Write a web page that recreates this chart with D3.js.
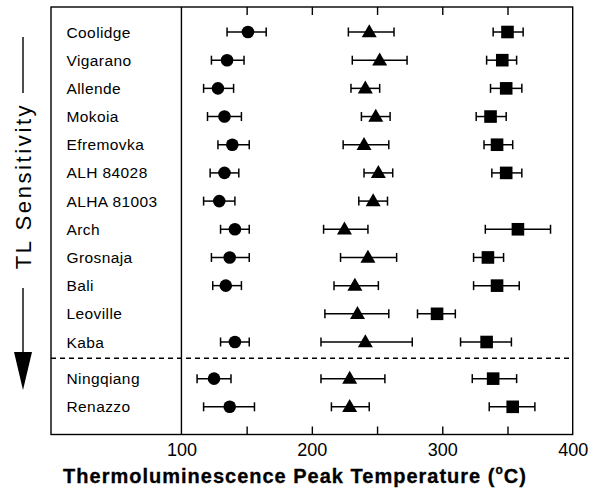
<!DOCTYPE html>
<html>
<head>
<meta charset="utf-8">
<script src="https://cdn.jsdelivr.net/npm/d3@7"></script>
<style>
  html, body { margin: 0; padding: 0; background: #fff; }
  svg { display: block; font-family: "Liberation Sans", Arial, Helvetica, sans-serif; }
</style>
</head>
<body>
<svg id="chart" width="590" height="495"></svg>
<script>
// ---- data ----
const categories = ["Coolidge","Vigarano","Allende","Mokoia","Efremovka","ALH 84028","ALHA 81003","Arch","Grosnaja","Bali","Leoville","Kaba","Ningqiang","Renazzo"];
const circleMid = [151,135,128,133,139,133,129,141,137,134,null,141,125,137];
const circleLo  = [135,123,117,120,128,122,117,130,123,124,null,130,112,117];
const circleHi  = [165,148,140,146,152,144,141,152,152,146,null,152,138,156];
const triMid = [244,252,241,249,240,251,247,225,243,233,235,241,229,229];
const triLo  = [228,231,230,238,224,240,236,209,222,217,210,207,207,215];
const triHi  = [263,273,252,260,259,262,258,243,265,251,259,277,256,244];
const sqMid = [350,346,349,337,342,349,null,358,335,342,296,334,339,354];
const sqLo  = [339,334,337,326,332,338,null,333,324,324,281,314,323,336];
const sqHi  = [362,357,361,349,354,361,null,383,347,359,310,353,357,371];
const xTickLabels = [100,200,300,400];
const xMinorTicks = [150,200,250,300,350];
const separatorAfter = "Kaba";
const xTitle = "Thermoluminescence Peak Temperature (";
const yTitle = "TL Sensitivity";

// ---- layout ----
const svg = d3.select("#chart");
const pL = 51, pR = 572.7, pT = 7, pB = 434.5;
const x = d3.scaleLinear().domain([0, 400]).range([pL, pR]);
const sepIndex = categories.indexOf(separatorAfter);
const gap = 0.3;
const slot = i => i + (i > sepIndex ? gap : 0);
const y = d3.scaleLinear().domain([0, 11]).range([32, 342]);
const rowY = i => y(slot(i));

// frame
svg.append("rect").attr("x", pL).attr("y", pT).attr("width", pR - pL).attr("height", pB - pT)
  .attr("fill", "none").attr("stroke", "#000").attr("stroke-width", 1.4);

// vertical line at 100
svg.append("line").attr("x1", x(100)).attr("x2", x(100)).attr("y1", pT).attr("y2", pB)
  .attr("stroke", "#000").attr("stroke-width", 1.4);

// minor inward ticks bottom & top
const tb = svg.append("g").attr("transform", `translate(0,${pB})`)
  .call(d3.axisBottom(x).tickValues(xMinorTicks).tickSize(-8).tickFormat(""));
const tt = svg.append("g").attr("transform", `translate(0,${pT})`)
  .call(d3.axisTop(x).tickValues(xMinorTicks).tickSize(-8).tickFormat(""));
[tb, tt].forEach(g => { g.select(".domain").remove(); g.selectAll("line").attr("stroke-width", 1.4); });

// tick labels
const tl = svg.append("g").attr("transform", `translate(0,${pB})`)
  .call(d3.axisBottom(x).tickValues(xTickLabels).tickSize(0).tickPadding(9));
tl.select(".domain").remove();
tl.selectAll("text").attr("font-size", 18).attr("font-family", "Liberation Sans, Arial, sans-serif").attr("fill", "#000").attr("dy", "0.71em");

// x title
const xt = svg.append("text").attr("x", 295).attr("y", 483).attr("text-anchor", "middle")
  .attr("font-size", 20).attr("font-weight", "bold").attr("letter-spacing", 1).attr("fill", "#000")
  .attr("stroke", "#000").attr("stroke-width", 0.3);
xt.append("tspan").text(xTitle);
xt.append("tspan").attr("font-size", 12).attr("dy", -9).text("o");
xt.append("tspan").attr("dy", 9).text("C)");

// separator dashed line
const sepY = (rowY(sepIndex) + rowY(sepIndex + 1)) / 2 - 2;
svg.append("line").attr("x1", pL).attr("x2", pR).attr("y1", sepY).attr("y2", sepY)
  .attr("stroke", "#000").attr("stroke-width", 1.4).attr("stroke-dasharray", "5,4");

// category labels
svg.append("g").selectAll("text").data(categories).join("text")
  .attr("x", 66.5).attr("y", (d, i) => rowY(i)).attr("dy", "0.36em")
  .attr("font-size", 15.5).attr("letter-spacing", 0.4).attr("fill", "#000").text(d => d);

// y title with line and arrow
const yx = 23;
svg.append("line").attr("x1", yx).attr("x2", yx).attr("y1", 37).attr("y2", 93).attr("stroke", "#000").attr("stroke-width", 1.4);
svg.append("text").attr("transform", `translate(${yx + 8},186) rotate(-90)`).attr("text-anchor", "middle")
  .attr("font-size", 22).attr("letter-spacing", 2.6).attr("fill", "#000").text(yTitle);
svg.append("line").attr("x1", yx).attr("x2", yx).attr("y1", 288).attr("y2", 356).attr("stroke", "#000").attr("stroke-width", 1.4);
svg.append("path").attr("d", `M${yx - 9},352 L${yx + 9},352 L${yx},390 Z`).attr("fill", "#000");

// series drawing
function drawSeries(mid, lo, hi, shape) {
  const idx = categories.map((c, i) => i).filter(i => mid[i] != null);
  const g = svg.append("g");
  const capH = 4.5;
  idx.forEach(i => {
    const cy = rowY(i);
    g.append("line").attr("x1", x(lo[i])).attr("x2", x(hi[i])).attr("y1", cy).attr("y2", cy).attr("stroke", "#000").attr("stroke-width", 1.5);
    [lo[i], hi[i]].forEach(v => g.append("line").attr("x1", x(v)).attr("x2", x(v)).attr("y1", cy - capH).attr("y2", cy + capH).attr("stroke", "#000").attr("stroke-width", 1.5));
    const cx = x(mid[i]);
    if (shape === "circle") {
      g.append("circle").attr("cx", cx).attr("cy", cy).attr("r", 6.3).attr("fill", "#000");
    } else if (shape === "square") {
      g.append("rect").attr("x", cx - 6.3).attr("y", cy - 6.3).attr("width", 12.6).attr("height", 12.6).attr("fill", "#000");
    } else {
      const s = 15, h = s * Math.sqrt(3) / 2;
      g.append("path").attr("d", `M${cx},${cy - h * 0.6} L${cx + s / 2},${cy + h * 0.4} L${cx - s / 2},${cy + h * 0.4} Z`).attr("fill", "#000");
    }
  });
}
drawSeries(circleMid, circleLo, circleHi, "circle");
drawSeries(triMid, triLo, triHi, "triangle");
drawSeries(sqMid, sqLo, sqHi, "square");
</script>
</body>
</html>
